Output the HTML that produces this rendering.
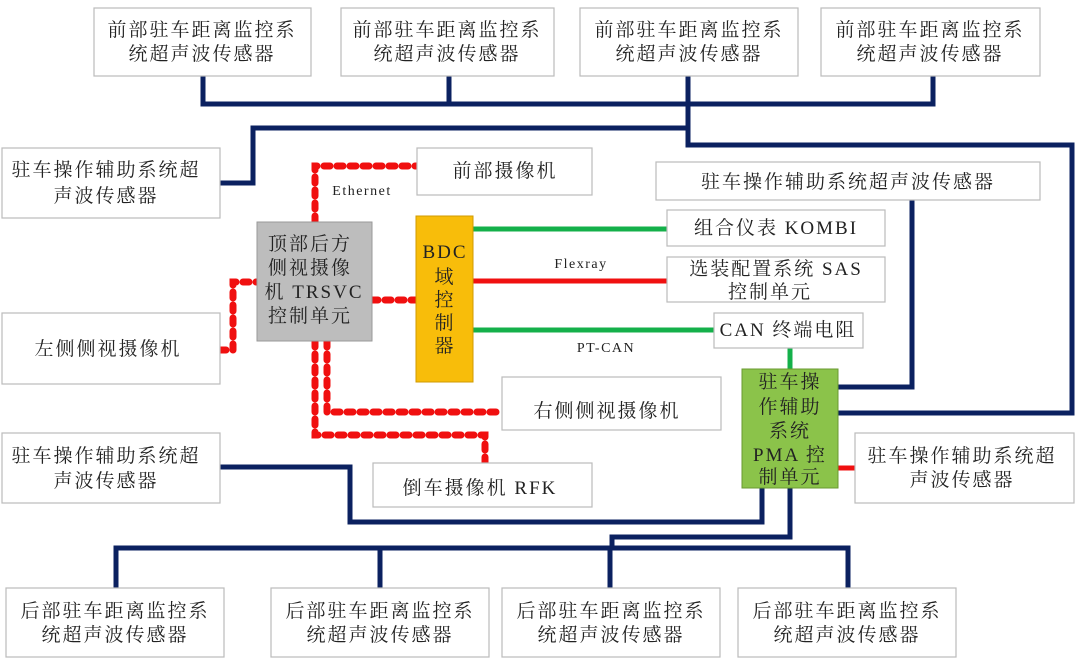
<!DOCTYPE html>
<html><head><meta charset="utf-8"><style>
html,body{margin:0;padding:0;background:#fff;}
svg{display:block;}
text{font-family:"Liberation Serif","Noto Serif CJK SC",serif;font-size:19px;fill:#222;text-anchor:middle;letter-spacing:2px;}
.b{fill:#fff;stroke:#bbb;stroke-width:1.2;}
.n{fill:none;stroke:#0b2160;stroke-width:5;stroke-linejoin:miter;}
.g{stroke:#14b04a;stroke-width:5;}
.r{stroke:#f01010;stroke-width:5;}
.d{fill:none;stroke:#f01010;stroke-width:7;stroke-dasharray:6 7;stroke-linecap:round;}
.s{font-size:14px;letter-spacing:1.5px;}
</style></head><body>
<svg width="1080" height="666" viewBox="0 0 1080 666">
<polyline class="n" points="203,76 203,104 933,104 933,76"/>
<line class="n" x1="449" y1="76" x2="449" y2="104"/>
<polyline class="n" points="688,76 688,145 1072,145 1072,413 838,413"/>
<polyline class="n" points="220,183 253,183 253,128 688,128"/>
<polyline class="n" points="912,200 912,387 838,387"/>
<polyline class="n" points="220,467 350,467 350,522 762,522 762,488"/>
<polyline class="n" points="790,488 790,537 612,537 612,548"/>
<polyline class="n" points="116,588 116,548 848,548 848,588"/>
<line class="n" x1="380" y1="548" x2="380" y2="588"/>
<line class="n" x1="610" y1="548" x2="610" y2="588"/>
<line class="g" x1="473" y1="229" x2="667" y2="229"/>
<line class="r" x1="473" y1="281" x2="667" y2="281"/>
<line class="g" x1="473" y1="330" x2="714" y2="330"/>
<line class="g" x1="790" y1="348" x2="790" y2="369"/>
<line class="r" x1="838" y1="468" x2="855" y2="468"/>
<polyline class="d" points="315,222 315,166 417,166"/>
<polyline class="d" points="372,300 416,300"/>
<polyline class="d" points="220,350 233,350 233,282 257,282"/>
<polyline class="d" points="315,341 315,435 485,435 485,463"/>
<polyline class="d" points="327,341 327,412 502,412"/>
<rect class="b" x="94" y="8" width="217" height="68"/><text x="202" y="36">前部驻车距离监控系</text><text x="202" y="60">统超声波传感器</text>
<rect class="b" x="341" y="8" width="213" height="68"/><text x="447" y="36">前部驻车距离监控系</text><text x="447" y="60">统超声波传感器</text>
<rect class="b" x="580" y="8" width="218" height="68"/><text x="689" y="36">前部驻车距离监控系</text><text x="689" y="60">统超声波传感器</text>
<rect class="b" x="821" y="8" width="219" height="68"/><text x="930" y="36">前部驻车距离监控系</text><text x="930" y="60">统超声波传感器</text>
<rect class="b" x="2" y="148" width="218" height="70"/><text x="106" y="176">驻车操作辅助系统超</text><text x="106" y="202">声波传感器</text>
<rect class="b" x="2" y="313" width="218" height="71"/><text x="108" y="355">左侧侧视摄像机</text>
<rect class="b" x="2" y="433" width="218" height="70"/><text x="106" y="462">驻车操作辅助系统超</text><text x="106" y="487">声波传感器</text>
<rect class="b" x="417" y="148" width="175" height="47"/><text x="505" y="177">前部摄像机</text>
<rect x="257" y="222" width="115" height="119" fill="#bdbdbd" stroke="#999"/>
<text x="310" y="250">顶部后方</text><text x="310" y="274">侧视摄像</text><text x="314" y="298">机 TRSVC</text><text x="310" y="322">控制单元</text>
<rect x="416" y="216" width="57" height="166" fill="#f8bd0a" stroke="#d09a00"/>
<text x="445" y="258">BDC</text><text x="445" y="283">域</text><text x="445" y="306">控</text><text x="445" y="329">制</text><text x="445" y="352">器</text>
<text class="s" x="362" y="195">Ethernet</text>
<text class="s" x="581" y="268">Flexray</text>
<text class="s" x="606" y="352">PT-CAN</text>
<rect class="b" x="656" y="162" width="384" height="38"/><text x="848" y="188">驻车操作辅助系统超声波传感器</text>
<rect class="b" x="667" y="210" width="218" height="36"/><text x="776" y="234">组合仪表 KOMBI</text>
<rect class="b" x="667" y="257" width="218" height="45"/><text x="776" y="275">选装配置系统 SAS</text><text x="770" y="298">控制单元</text>
<rect class="b" x="714" y="313" width="149" height="35"/><text x="788" y="336">CAN 终端电阻</text>
<rect x="742" y="369" width="96" height="119" fill="#8bc34a" stroke="#6a9a30"/>
<text x="790" y="388">驻车操</text><text x="790" y="413">作辅助</text><text x="790" y="437">系统</text><text x="790" y="461">PMA 控</text><text x="790" y="483">制单元</text>
<rect class="b" x="855" y="433" width="219" height="70"/><text x="962" y="462">驻车操作辅助系统超</text><text x="962" y="486">声波传感器</text>
<rect class="b" x="502" y="377" width="219" height="53"/><text x="607" y="417">右侧侧视摄像机</text>
<rect class="b" x="373" y="463" width="219" height="44"/><text x="480" y="494">倒车摄像机 RFK</text>
<rect class="b" x="6" y="588" width="218" height="69"/><text x="115" y="617">后部驻车距离监控系</text><text x="115" y="641">统超声波传感器</text>
<rect class="b" x="271" y="588" width="218" height="69"/><text x="380" y="617">后部驻车距离监控系</text><text x="380" y="641">统超声波传感器</text>
<rect class="b" x="502" y="588" width="218" height="69"/><text x="611" y="617">后部驻车距离监控系</text><text x="611" y="641">统超声波传感器</text>
<rect class="b" x="738" y="588" width="218" height="69"/><text x="847" y="617">后部驻车距离监控系</text><text x="847" y="641">统超声波传感器</text>
</svg>
</body></html>
